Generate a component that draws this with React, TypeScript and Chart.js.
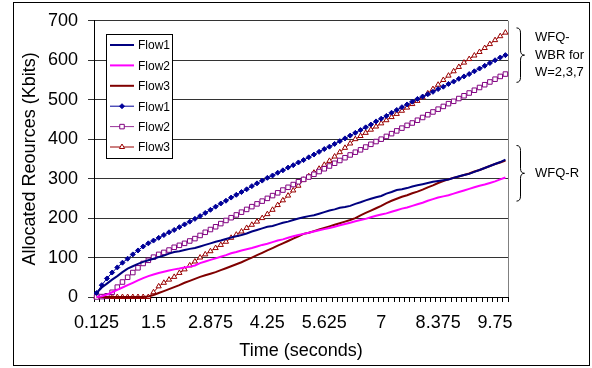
import React, { useEffect, useRef } from 'react';
import { Chart, registerables } from 'chart.js';

Chart.register(...registerables);

const TIMES = [
  0.125, 0.25, 0.375, 0.5, 0.625, 0.75, 0.875, 1, 1.125, 1.25, 1.375, 1.5, 1.625, 1.75, 1.875, 2,
  2.125, 2.25, 2.375, 2.5, 2.625, 2.75, 2.875, 3, 3.125, 3.25, 3.375, 3.5, 3.625, 3.75, 3.875, 4,
  4.125, 4.25, 4.375, 4.5, 4.625, 4.75, 4.875, 5, 5.125, 5.25, 5.375, 5.5, 5.625, 5.75, 5.875, 6,
  6.125, 6.25, 6.375, 6.5, 6.625, 6.75, 6.875, 7, 7.125, 7.25, 7.375, 7.5, 7.625, 7.75, 7.875, 8,
  8.125, 8.25, 8.375, 8.5, 8.625, 8.75, 8.875, 9, 9.125, 9.25, 9.375, 9.5, 9.625, 9.75, 9.875, 10,
];

const TICK_LABELS = ['0.125', '1.5', '2.875', '4.25', '5.625', '7', '8.375', '9.75'];

// WFQ-R
const R_FLOW1 = [
  10, 24, 34, 44, 53, 63, 72, 78, 84, 89, 93, 97, 101, 105, 110, 114, 116, 119, 122, 124,
  128, 132, 136, 140, 143, 147, 151, 154, 157, 161, 166, 170, 174, 178, 180, 184, 188, 191, 195, 199,
  202, 205, 207, 211, 215, 219, 222, 226, 228, 231, 236, 240, 245, 249, 253, 256, 262, 266, 271, 273,
  276, 280, 283, 286, 289, 292, 294, 296, 298, 302, 306, 309, 312, 317, 322, 327, 332, 337, 342, 348,
];
const R_FLOW2 = [
  0, 2, 6, 12, 18, 24, 30, 36, 42, 48, 53, 57, 61, 64, 67, 70, 72, 75, 77, 80,
  86, 90, 94, 98, 102, 106, 111, 114, 118, 121, 124, 128, 132, 135, 139, 143, 146, 150, 154, 157,
  160, 163, 166, 169, 172, 175, 178, 182, 185, 188, 192, 195, 198, 202, 206, 209, 212, 216, 220, 224,
  227, 231, 235, 239, 244, 248, 252, 255, 258, 262, 266, 270, 274, 278, 282, 285, 289, 293, 298, 303,
];
const R_FLOW3 = [
  0, 0, 0, 0, 0, 0, 0, 0, 0, 0, 1, 5, 10, 15, 20, 25, 30, 36, 41, 46,
  51, 55, 59, 63, 68, 73, 78, 83, 88, 94, 100, 106, 112, 118, 124, 130, 136, 142, 148, 154,
  160, 163, 167, 171, 175, 179, 183, 187, 191, 195, 200, 207, 213, 219, 225, 231, 238, 244, 249, 254,
  258, 263, 267, 272, 278, 283, 289, 294, 298, 302, 305, 309, 313, 318, 322, 327, 332, 337, 341, 346,
];

// WFQ-WBR
const W_FLOW1 = [
  10, 30, 47, 62, 75, 87, 97, 108, 118, 128, 136, 143, 150, 157, 164, 170, 177, 184, 191, 198,
  205, 213, 221, 229, 237, 244, 252, 259, 266, 273, 281, 288, 295, 302, 308, 315, 321, 328, 334, 341,
  347, 354, 361, 368, 375, 381, 388, 395, 402, 409, 416, 423, 430, 437, 445, 452, 459, 467, 474, 481,
  488, 495, 502, 508, 514, 520, 527, 533, 540, 546, 553, 559, 565, 572, 579, 586, 593, 600, 607, 613,
];
const W_FLOW2 = [
  0, 1, 3, 12, 25, 38, 50, 62, 74, 85, 93, 101, 108, 113, 119, 126, 131, 136, 142, 148,
  156, 164, 171, 178, 186, 194, 201, 208, 215, 222, 229, 236, 243, 250, 257, 264, 271, 278, 285, 292,
  298, 304, 311, 318, 325, 332, 339, 346, 353, 360, 367, 373, 380, 387, 394, 400, 407, 414, 421, 428,
  435, 441, 448, 455, 462, 469, 476, 483, 490, 496, 503, 510, 517, 524, 531, 538, 545, 552, 559, 565,
];
const W_FLOW3 = [
  0, 0, 0, 0, 0, 0, 0, 0, 0, 0, 0, 12, 27, 36, 44, 51, 61, 70, 80, 90,
  100, 108, 116, 124, 132, 140, 150, 158, 166, 175, 183, 191, 200, 210, 221, 233, 245, 257, 270, 282,
  297, 306, 315, 325, 335, 345, 356, 367, 378, 389, 400, 408, 416, 424, 432, 440, 448, 456, 464, 472,
  480, 489, 497, 506, 516, 527, 538, 550, 561, 572, 583, 594, 603, 612, 621, 631, 641, 651, 661, 670,
];

const SERIES_LABELS = ['Flow1', 'Flow2', 'Flow3', 'Flow1', 'Flow2', 'Flow3'];

const BRACE_WBR_RANGE = [682, 544];
const BRACE_WBR_TEXT = ['WFQ-', 'WBR for', 'W=2,3,7'];
const BRACE_R_RANGE = [384, 243];
const BRACE_R_TEXT = ['WFQ-R'];

const FONT = '"Liberation Sans", Arial, Helvetica, sans-serif';

function drawMarker(ctx: CanvasRenderingContext2D, style: string, x: number, y: number, r: number, stroke: string, fill: string) {
  ctx.save();
  ctx.beginPath();
  if (style === 'rectRot') {
    ctx.moveTo(x, y - r);
    ctx.lineTo(x + r, y);
    ctx.lineTo(x, y + r);
    ctx.lineTo(x - r, y);
    ctx.closePath();
  } else if (style === 'rect') {
    const s = r * Math.SQRT1_2;
    ctx.rect(x - s, y - s, 2 * s, 2 * s);
  } else if (style === 'triangle') {
    const side = (3 * r) / Math.sqrt(3);
    const h = (side * Math.sqrt(3)) / 2;
    ctx.moveTo(x - side / 2, y + h / 3);
    ctx.lineTo(x + side / 2, y + h / 3);
    ctx.lineTo(x, y - (2 * h) / 3);
    ctx.closePath();
  }
  ctx.fillStyle = fill;
  ctx.fill();
  ctx.strokeStyle = stroke;
  ctx.lineWidth = 1;
  ctx.stroke();
  ctx.restore();
}

function drawBrace(ctx: CanvasRenderingContext2D, x: number, yTop: number, yBot: number) {
  const yMid = (yTop + yBot) / 2;
  ctx.beginPath();
  ctx.moveTo(x - 4, yTop);
  ctx.quadraticCurveTo(x, yTop, x, yTop + 5);
  ctx.lineTo(x, yMid - 5);
  ctx.quadraticCurveTo(x, yMid, x + 4, yMid);
  ctx.quadraticCurveTo(x, yMid, x, yMid + 5);
  ctx.lineTo(x, yBot - 5);
  ctx.quadraticCurveTo(x, yBot, x - 4, yBot);
  ctx.stroke();
}

const framePlugin = {
  id: 'frame',
  beforeDraw(chart: any) {
    const { ctx, width, height } = chart;
    ctx.save();
    ctx.fillStyle = '#ffffff';
    ctx.fillRect(0, 0, width, height);
    ctx.restore();
  },
  beforeDatasetsDraw(chart: any) {
    const { ctx, chartArea } = chart;
    ctx.save();
    ctx.strokeStyle = '#808080';
    ctx.lineWidth = 1;
    ctx.beginPath();
    ctx.moveTo(Math.round(chartArea.right) + 0.5, chartArea.top);
    ctx.lineTo(Math.round(chartArea.right) + 0.5, chartArea.bottom);
    ctx.stroke();
    ctx.restore();
  },
  afterDraw(chart: any) {
    const { ctx, chartArea, scales } = chart;
    ctx.save();
    ctx.strokeStyle = '#000';
    ctx.lineWidth = 1;
    ctx.strokeRect(13.5, 2.5, 576, 363);

    // legend box
    const x0 = Math.round(chartArea.left) + 12;
    const y0 = Math.round(chartArea.top) + 13;
    const w = 66;
    const h = 124;
    ctx.fillStyle = '#fff';
    ctx.fillRect(x0, y0, w, h);
    ctx.strokeStyle = '#000';
    ctx.strokeRect(x0 + 0.5, y0 + 0.5, w, h);
    ctx.font = `12px ${FONT}`;
    ctx.textBaseline = 'middle';
    ctx.textAlign = 'left';
    chart.data.datasets.forEach((ds: any, i: number) => {
      const cy = y0 + 11 + i * 20.4;
      ctx.strokeStyle = ds.borderColor;
      ctx.lineWidth = ds.borderWidth;
      ctx.beginPath();
      ctx.moveTo(x0 + 4, cy);
      ctx.lineTo(x0 + 28, cy);
      ctx.stroke();
      if (ds.pointRadius > 0) {
        drawMarker(ctx, ds.pointStyle, x0 + 16, cy, ds.pointRadius, ds.pointBorderColor, ds.pointBackgroundColor);
      }
      ctx.fillStyle = '#000';
      ctx.fillText(ds.label, x0 + 32, cy + 1);
    });

    // braces and annotations
    const y = scales.y;
    const bx = chartArea.right + 12;
    ctx.strokeStyle = '#000';
    ctx.lineWidth = 1;
    ctx.font = `13px ${FONT}`;
    ctx.fillStyle = '#000';
    const groups: [number[], string[]][] = [
      [BRACE_WBR_RANGE, BRACE_WBR_TEXT],
      [BRACE_R_RANGE, BRACE_R_TEXT],
    ];
    groups.forEach(([range, lines]) => {
      const yt = y.getPixelForValue(range[0]);
      const yb = y.getPixelForValue(range[1]);
      drawBrace(ctx, bx + 0.5, yt, yb);
      const mid = (yt + yb) / 2;
      const lh = 17.5;
      lines.forEach((t, k) => {
        ctx.fillText(t, chartArea.right + 27, mid + (k - (lines.length - 1) / 2) * lh);
      });
    });
    ctx.restore();
  },
};

export default function App() {
  const ref = useRef<HTMLCanvasElement | null>(null);

  useEffect(() => {
    document.body.style.margin = '0';
    const canvas = ref.current;
    if (!canvas) return;
    Chart.defaults.font.family = FONT;
    Chart.defaults.color = '#000';

    const chart = new Chart(canvas, {
      type: 'line',
      data: {
        labels: TIMES.map(String),
        datasets: [
          { label: SERIES_LABELS[0], data: R_FLOW1, borderColor: '#000080', backgroundColor: '#000080', borderWidth: 2, pointRadius: 0, tension: 0 },
          { label: SERIES_LABELS[1], data: R_FLOW2, borderColor: '#FF00FF', backgroundColor: '#FF00FF', borderWidth: 2, pointRadius: 0, tension: 0 },
          { label: SERIES_LABELS[2], data: R_FLOW3, borderColor: '#800000', backgroundColor: '#800000', borderWidth: 2, pointRadius: 0, tension: 0 },
          { label: SERIES_LABELS[3], data: W_FLOW1, borderColor: '#000099', backgroundColor: '#000099', borderWidth: 1, pointStyle: 'rectRot', pointRadius: 2.5, pointBorderColor: '#000099', pointBackgroundColor: '#000099', pointBorderWidth: 1, tension: 0 },
          { label: SERIES_LABELS[4], data: W_FLOW2, borderColor: '#993399', backgroundColor: '#993399', borderWidth: 1, pointStyle: 'rect', pointRadius: 3.2, pointBorderColor: '#800080', pointBackgroundColor: '#ffffff', pointBorderWidth: 1, tension: 0 },
          { label: SERIES_LABELS[5], data: W_FLOW3, borderColor: '#990000', backgroundColor: '#990000', borderWidth: 1, pointStyle: 'triangle', pointRadius: 3, pointBorderColor: '#990000', pointBackgroundColor: '#ffffff', pointBorderWidth: 1, tension: 0 },
        ] as any,
      },
      options: {
        animation: false,
        responsive: false,
        maintainAspectRatio: false,
        devicePixelRatio: 1,
        layout: { padding: { left: 13, right: 84, top: 18, bottom: 4 } },
        elements: { line: { fill: false } },
        datasets: { line: { clip: false } } as any,
        plugins: { legend: { display: false }, tooltip: { enabled: false } },
        scales: {
          x: {
            type: 'category',
            offset: true,
            grid: { display: true, drawOnChartArea: false, drawTicks: true, tickLength: 5, offset: true, color: '#000' },
            border: { display: true, color: '#000', width: 1 },
            ticks: {
              autoSkip: false,
              maxRotation: 0,
              minRotation: 0,
              padding: 10,
              font: { size: 18, family: FONT },
              color: '#000',
              callback: function (this: any, _v: any, idx: number) {
                const lab = String(TIMES[idx]);
                return TICK_LABELS.includes(lab) ? lab : '';
              },
            },
            title: { display: true, text: 'Time (seconds)', font: { size: 18, family: FONT }, color: '#000', padding: { top: 0, bottom: 2 } },
            afterFit: (s: any) => { s.height = 67; },
          },
          y: {
            min: 0,
            max: 700,
            ticks: { stepSize: 100, padding: 10, font: { size: 18, family: FONT }, color: '#000' },
            grid: { color: '#333333', tickLength: 6, drawTicks: true },
            border: { display: true, color: '#000', width: 1 },
            title: { display: true, text: 'Allocated Reources (Kbits)', font: { size: 18, family: FONT }, color: '#000', padding: { top: 6, bottom: 0 } },
            afterFit: (s: any) => { s.width = 81; },
          },
        },
      } as any,
      plugins: [framePlugin],
    });
    return () => chart.destroy();
  }, []);

  return <canvas ref={ref} width={592} height={368} style={{ display: 'block' }} />;
}
